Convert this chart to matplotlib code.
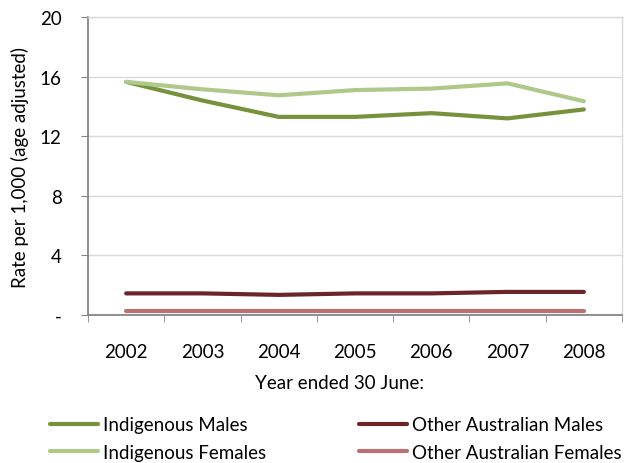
import matplotlib.pyplot as plt
import numpy as np

plt.rcParams['font.family'] = ['Lato', 'DejaVu Sans']

# Data
years = ['2002', '2003', '2004', '2005', '2006', '2007', '2008']
indigenous_males = [15.65, 14.4, 13.3, 13.3, 13.55, 13.2, 13.8]
indigenous_females = [15.65, 15.15, 14.75, 15.1, 15.2, 15.55, 14.35]
other_males = [1.45, 1.45, 1.35, 1.45, 1.45, 1.55, 1.55]
other_females = [0.25, 0.25, 0.25, 0.25, 0.25, 0.25, 0.25]
y_ticks = [0, 4, 8, 12, 16, 20]
y_ticklabels = ['-', '4', '8', '12', '16', '20']

fs = 13.5
fig = plt.figure(figsize=(6.26, 4.64), dpi=100)
ax = fig.add_axes([0.1406, 0.319, 0.853, 0.642])

x = np.arange(len(years))
lw = 3.0
ax.plot(x, indigenous_males, color='#77923C', lw=lw, solid_capstyle='round', label='Indigenous Males')
ax.plot(x, indigenous_females, color='#AFC98A', lw=lw, solid_capstyle='round', label='Indigenous Females')
ax.plot(x, other_males, color='#6B2526', lw=lw, solid_capstyle='round', label='Other Australian Males')
ax.plot(x, other_females, color='#B97174', lw=lw, solid_capstyle='round', label='Other Australian Females')

ax.set_xlim(-0.5, len(years) - 0.5)
ax.set_ylim(0, 20)
ax.set_yticks(y_ticks)
ax.set_yticklabels(y_ticklabels)
ax.set_xticks(x)
ax.set_xticklabels(years)
ax.set_xticks(np.arange(len(years) + 1) - 0.5, minor=True)
ax.tick_params(axis='x', which='major', length=0, pad=20, labelsize=fs)
ax.tick_params(axis='x', which='minor', length=5, color='#868686', direction='out')
ax.tick_params(axis='y', length=5, color='#868686', labelsize=fs, pad=14)

ax.grid(axis='y', color='#D9D9D9', lw=1)
ax.set_axisbelow(True)
for side in ['left', 'bottom']:
    ax.spines[side].set_color('#868686')
    ax.spines[side].set_linewidth(1.3)
for side in ['top', 'right']:
    ax.spines[side].set_color('#D9D9D9')
    ax.spines[side].set_linewidth(1)

ax.set_ylabel('Rate per 1,000 (age adjusted)', fontsize=fs, labelpad=8)
fig.text(340 / 626, 1 - 384 / 464, 'Year ended 30 June:', fontsize=fs,
         ha='center', va='center')

fig.legend(loc='upper left', bbox_to_anchor=(42 / 626, 1 - 410 / 464), ncol=2,
           frameon=False, fontsize=fs, handlelength=2.56, handletextpad=0.27,
           columnspacing=5.0, labelspacing=0.56, borderaxespad=0)

fig.savefig('out.png', dpi=100)
